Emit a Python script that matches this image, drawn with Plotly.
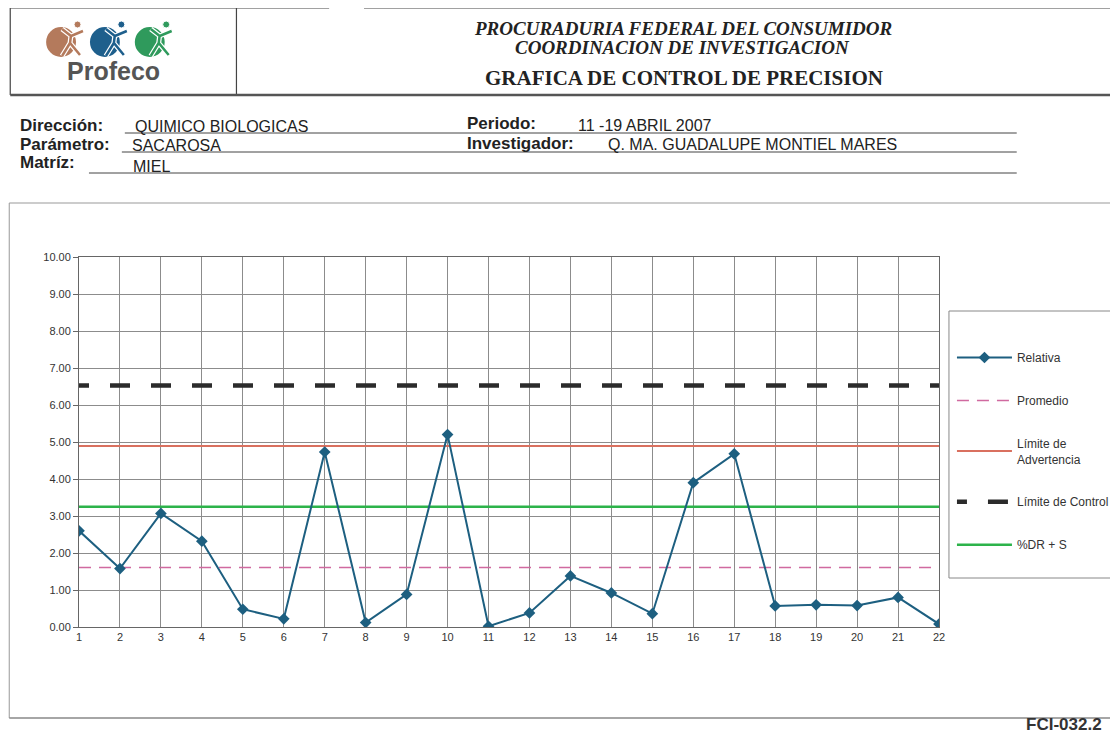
import plotly.graph_objects as go

# ---------------- data ----------------
muestras = list(range(1, 23))
relativa = [2.60, 1.58, 3.07, 2.32, 0.48, 0.22, 4.73, 0.12, 0.88, 5.20, 0.02,
            0.38, 1.38, 0.92, 0.36, 3.90, 4.68, 0.57, 0.60, 0.58, 0.80, 0.08]
promedio = 1.61
limite_advertencia = 4.89
limite_control = 6.53
dr_mas_s = 3.25
y_ticks = [0, 1, 2, 3, 4, 5, 6, 7, 8, 9, 10]

# ---------------- layout helpers (reference pixel -> paper) ----------------
W, H = 1118, 734
OFF = 8                      # page body margin of the browser
PL, PR, PT, PB = 79, 942, 257, 627   # plot area in window pixels
RIGHT = 1117                 # right-most window pixel used by frame lines


def px(x):
    return (x - PL) / (PR - PL)


def py(y):
    return (PB - y) / (PB - PT)


fig = go.Figure()

line_defs = [
    ("%DR + S", dr_mas_s, dict(color="#2db34a", width=2.5), 5),
    ("Límite de Control", limite_control,
     dict(color="#2b2b2b", width=4.5, dash="10px,21px,10px,0px"), 4),
    ("Límite de<br>Advertencia", limite_advertencia, dict(color="#d9705f", width=2), 3),
    ("Promedio", promedio, dict(color="#d06aa0", width=1.5, dash="12px,8px"), 2),
]
for name, val, ln, rank in line_defs:
    fig.add_trace(go.Scatter(
        x=muestras, y=[val] * len(muestras), mode="lines", name=name,
        line=ln, legendrank=rank, legendgroup=name, hoverinfo="skip"))

fig.add_trace(go.Scatter(
    x=muestras, y=relativa, mode="lines+markers", name="Relativa",
    line=dict(color="#1d5f80", width=2),
    marker=dict(symbol="diamond", size=9, color="#1d5f80"),
    legendrank=1, legendgroup="Relativa"))

shapes = []
annotations = []


def hline(x0, x1, y, color="#555", width=1):
    shapes.append(dict(type="line", xref="paper", yref="paper",
                       x0=px(x0), x1=px(x1), y0=py(y), y1=py(y),
                       line=dict(color=color, width=width)))


def vline(x, y0, y1, color="#555", width=1):
    shapes.append(dict(type="line", xref="paper", yref="paper",
                       x0=px(x), x1=px(x), y0=py(y0), y1=py(y1),
                       line=dict(color=color, width=width)))


def text(x, y, s, size=12, bold=False, family="Liberation Sans", color="#222",
         anchor="left", italic=False):
    annotations.append(dict(
        x=px(x), y=py(y), xref="paper", yref="paper", text=s, showarrow=False,
        xanchor=anchor, yanchor="middle",
        font=dict(size=size, family=family, color=color,
                  weight="bold" if bold else "normal",
                  style="italic" if italic else "normal")))


# ---- header box ----
hline(10, 330, 8, "#444", 1.2)
hline(365, RIGHT, 8, "#444", 1.2)
vline(10, 8, 95, "#444", 1.2)
vline(237, 8, 95, "#444", 1.2)
hline(10, RIGHT, 95, "#555", 2.5)

# logo circles and figures
logo = [(61, 42, "#b47a5c"), (105, 42, "#1e5f8c"), (150, 42, "#2f9a5c")]
for cx, cy, col in logo:
    shapes.append(dict(type="circle", xref="paper", yref="paper",
                       x0=px(cx - 15), x1=px(cx + 15), y0=py(cy - 15), y1=py(cy + 15),
                       fillcolor=col, line=dict(width=0)))
    fig_path = (f"M {px(cx+1)},{py(cy+14)} L {px(cx+9)},{py(cy+1)} "
                f"L {px(cx+19)},{py(cy+13)} "
                f"M {px(cx+9)},{py(cy+1)} L {px(cx+10)},{py(cy-7)} "
                f"M {px(cx+1)},{py(cy-13)} L {px(cx+10)},{py(cy-6)} L {px(cx+22)},{py(cy-11)}")
    shapes.append(dict(type="path", xref="paper", yref="paper", path=fig_path,
                       line=dict(color="white", width=5)))
    shapes.append(dict(type="path", xref="paper", yref="paper", path=fig_path,
                       line=dict(color=col, width=2.5)))
    shapes.append(dict(type="circle", xref="paper", yref="paper",
                       x0=px(cx + 13), x1=px(cx + 20), y0=py(cy - 21), y1=py(cy - 14),
                       fillcolor=col, line=dict(color="white", width=1)))
text(114, 71, "Profeco", size=25, bold=True, color="#555", anchor="center")

text(685, 28, "PROCURADURIA FEDERAL DEL CONSUMIDOR", size=19, bold=True,
     family="Liberation Serif", italic=True, color="#222", anchor="center")
text(685, 47, "COORDINACION DE INVESTIGACION", size=19, bold=True,
     family="Liberation Serif", italic=True, color="#222", anchor="center")
text(686, 78, "GRAFICA DE CONTROL DE PRECISION", size=21, bold=True,
     family="Liberation Serif", color="#222", anchor="center")

# ---- form fields ----
LBL, VAL = 17, 16
text(18, 125, "Dirección:", size=LBL, bold=True)
text(133, 126, "QUIMICO BIOLOGICAS", size=VAL)
text(18, 144, "Parámetro:", size=LBL, bold=True)
text(130, 145, "SACAROSA", size=VAL)
text(18, 163, "Matríz:", size=LBL, bold=True)
text(131, 166, "MIEL", size=VAL)
text(466, 124, "Periodo:", size=LBL, bold=True)
text(578, 125, "11 -19 ABRIL 2007", size=VAL)
text(466, 143, "Investigador:", size=LBL, bold=True)
text(608, 144, "Q. MA. GUADALUPE MONTIEL MARES", size=VAL)
hline(125, 1020, 133, "#444", 1)
hline(122, 1020, 152, "#444", 1)
hline(89, 1020, 173, "#444", 1)

# ---- chart frame ----
hline(9, RIGHT, 203, "#999", 1)
vline(9, 203, 718, "#999", 1)
hline(9, RIGHT, 718, "#888", 1.5)
# legend frame
shapes.append(dict(type="rect", xref="paper", yref="paper",
                   x0=px(952), x1=px(RIGHT), y0=py(311), y1=py(578),
                   line=dict(color="#888", width=1), fillcolor="rgba(0,0,0,0)"))

text(1067, 724, "FCI-032.2", size=17, bold=True, anchor="center", color="#333")

fig.update_layout(
    width=W, height=H, autosize=False,
    margin=dict(l=PL - OFF, r=W - (PR - OFF), t=PT - OFF, b=H - (PB - OFF), pad=0),
    paper_bgcolor="white", plot_bgcolor="white",
    shapes=shapes, annotations=annotations,
    showlegend=True,
    legend=dict(x=px(955), y=py(343), xanchor="left", yanchor="top",
                font=dict(size=12, family="Liberation Sans", color="#333"),
                itemwidth=55, tracegroupgap=24, bgcolor="rgba(0,0,0,0)",
                borderwidth=0),
    xaxis=dict(range=[1, 22], tickvals=muestras, ticktext=[str(m) for m in muestras],
               showgrid=True, gridcolor="#8c8c8c", gridwidth=1,
               showline=True, linecolor="#666", linewidth=1, mirror=True,
               zeroline=False, ticks="", tickfont=dict(size=11, family="Liberation Sans", color="#333")),
    yaxis=dict(range=[0, 10], tickvals=y_ticks, tickformat=".2f",
               showgrid=True, gridcolor="#8c8c8c", gridwidth=1,
               showline=True, linecolor="#666", linewidth=1, mirror=True,
               zeroline=False, ticks="outside", ticklen=5, tickcolor="#666",
               tickfont=dict(size=11, family="Liberation Sans", color="#333")),
)

fig.write_html("out.html", config={"displayModeBar": False})
